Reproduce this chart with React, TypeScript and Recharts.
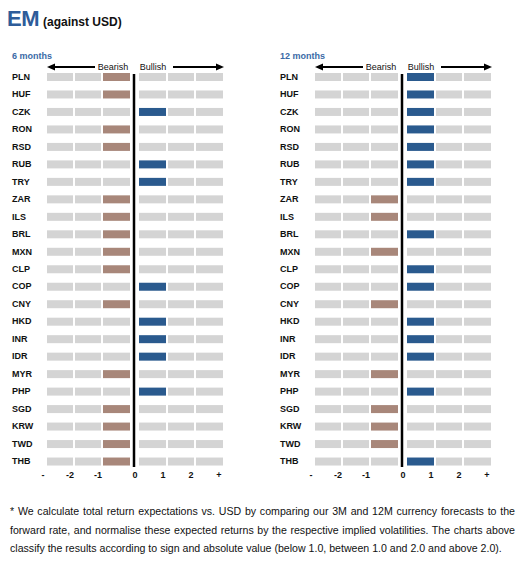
import { BarChart, Bar, XAxis, YAxis, Cell, ReferenceLine } from 'recharts'

const currencies = ['PLN', 'HUF', 'CZK', 'RON', 'RSD', 'RUB', 'TRY', 'ZAR', 'ILS', 'BRL', 'MXN', 'CLP', 'COP', 'CNY', 'HKD', 'INR', 'IDR', 'MYR', 'PHP', 'SGD', 'KRW', 'TWD', 'THB']
// signal per currency: -3..-1 bearish, 1..3 bullish
const sixMonths = [-1, -1, 1, -1, -1, 1, 1, -1, -1, -1, -1, -1, 1, -1, 1, 1, 1, -1, 1, -1, -1, -1, -1]
const twelveMonths = [1, 1, 1, 1, 1, 1, 1, -1, -1, 1, -1, 1, 1, -1, 1, 1, 1, -1, 1, -1, -1, -1, 1]
const tickLabels = ['-', '-2', '-1', '0', '1', '2', '+']

const GREY = '#d4d4d4'
const BLUE = '#2a5a8e'
const BROWN = '#a8877a'
const FONT = '"Liberation Sans", Arial, sans-serif'

// the six cells and the gaps between them, stacked left to right
const segments = [
  { key: 'c0', w: 26, cell: 0 },
  { key: 'g0', w: 2 },
  { key: 'c1', w: 26, cell: 1 },
  { key: 'g1', w: 2 },
  { key: 'c2', w: 27, cell: 2 },
  { key: 'g2', w: 9 },
  { key: 'c3', w: 27, cell: 3 },
  { key: 'g3', w: 2 },
  { key: 'c4', w: 26, cell: 4 },
  { key: 'g4', w: 2 },
  { key: 'c5', w: 27, cell: 5 },
]
const total = segments.reduce((s, g) => s + g.w, 0)
const zeroPos = 87
const tickPos = [0, 27, 55, 87, 120, 148, 176]

const cellIndex = (v: number) => (v < 0 ? v + 3 : v + 2)

function buildRows(values: number[]) {
  return currencies.map((name, i) => {
    const row: any = { name, v: values[i] }
    segments.forEach((s) => (row[s.key] = s.w))
    return row
  })
}

const YTick = (p: any) => (
  <text x={12} y={p.y} dy={3} fontSize={9} fontWeight="bold" fontFamily={FONT} fill="#111">
    {p.payload.value}
  </text>
)

const XTick = (p: any) => {
  const i = tickPos.indexOf(p.payload.value)
  const dx = i === 3 ? 1 : -4
  return (
    <text x={p.x + dx} y={p.y} textAnchor="middle" fontSize={9} fontWeight="bold" fontFamily={FONT} fill="#111">
      {tickLabels[i]}
    </text>
  )
}

function Panel({ title, values, left }: { title: string; values: number[]; left: number }) {
  const rows = buildRows(values)
  return (
    <div style={{ position: 'absolute', left, top: 0, width: 230, height: 500 }}>
      <div style={{ position: 'absolute', left: 12, top: 51, fontSize: 9, fontWeight: 'bold', color: '#3a6aa6', fontFamily: FONT }}>
        {title}
      </div>
      <svg style={{ position: 'absolute', left: 0, top: 0 }} width={230} height={80}>
        <line x1={53} x2={95} y1={67} y2={67} stroke="#000" strokeWidth={2} />
        <polygon points="47,67 55,63.5 55,70.5" fill="#000" />
        <line x1={173} x2={217} y1={67} y2={67} stroke="#000" strokeWidth={2} />
        <polygon points="224,67 216,63.5 216,70.5" fill="#000" />
        <text x={113} y={70} textAnchor="middle" fontSize={9} fontFamily={FONT} fill="#111">Bearish</text>
        <text x={153} y={70} textAnchor="middle" fontSize={9} fontFamily={FONT} fill="#111">Bullish</text>
      </svg>
      <BarChart
        width={230}
        height={500}
        data={rows}
        layout="vertical"
        margin={{ top: 68, right: 7, bottom: 0, left: 0 }}
        barSize={8}
        style={{ position: 'absolute', left: 0, top: 0 }}
      >
        <XAxis
          type="number"
          domain={[0, total]}
          ticks={tickPos}
          interval={0}
          tickLine={false}
          axisLine={false}
          tick={<XTick />}
          height={30}
        />
        <YAxis type="category" dataKey="name" width={47} tickLine={false} axisLine={false} tick={<YTick />} interval={0} />
        {segments.map((s) => (
          <Bar key={s.key} dataKey={s.key} stackId="s" fill={s.cell === undefined ? 'transparent' : GREY} isAnimationActive={false}>
            {s.cell !== undefined &&
              rows.map((r, i) => (
                <Cell key={i} fill={cellIndex(r.v) === s.cell ? (r.v < 0 ? BROWN : BLUE) : GREY} />
              ))}
          </Bar>
        ))}
        <ReferenceLine
          x={zeroPos}
          stroke="#000"
          strokeWidth={2.5}
          shape={(p: any) => {
            const top = Math.min(p.y1, p.y2)
            const bottom = Math.max(p.y1, p.y2)
            return <line x1={p.x1} x2={p.x2} y1={top + 6} y2={bottom - 3} stroke="#000" strokeWidth={2.5} />
          }}
        />
      </BarChart>
    </div>
  )
}

const footLine = { width: 505, fontSize: 10.6, lineHeight: '18.7px', whiteSpace: 'nowrap' as const, color: '#111' }

export default function App() {
  return (
    <div style={{ position: 'absolute', left: 0, top: 0, width: 523, height: 562, background: '#fff', fontFamily: FONT }}>
      <div style={{ position: 'absolute', left: 7, top: 6, whiteSpace: 'nowrap' }}>
        <span style={{ fontSize: 22, fontWeight: 'bold', color: '#2e5c99', letterSpacing: -0.5 }}>EM</span>
        <span style={{ fontSize: 12, fontWeight: 'bold', color: '#111', marginLeft: 4 }}>(against USD)</span>
      </div>
      <Panel title="6 months" values={sixMonths} left={0} />
      <Panel title="12 months" values={twelveMonths} left={268} />
      <div style={{ position: 'absolute', left: 10, top: 502 }}>
        <div style={{ ...footLine, textAlign: 'justify', textAlignLast: 'justify' }}>
          * We calculate total return expectations vs. USD by comparing our 3M and 12M currency forecasts to the
        </div>
        <div style={{ ...footLine, textAlign: 'justify', textAlignLast: 'justify' }}>
          forward rate, and normalise these expected returns by the respective implied volatilities. The charts above
        </div>
        <div style={footLine}>
          classify the results according to sign and absolute value (below 1.0, between 1.0 and 2.0 and above 2.0).
        </div>
      </div>
    </div>
  )
}
